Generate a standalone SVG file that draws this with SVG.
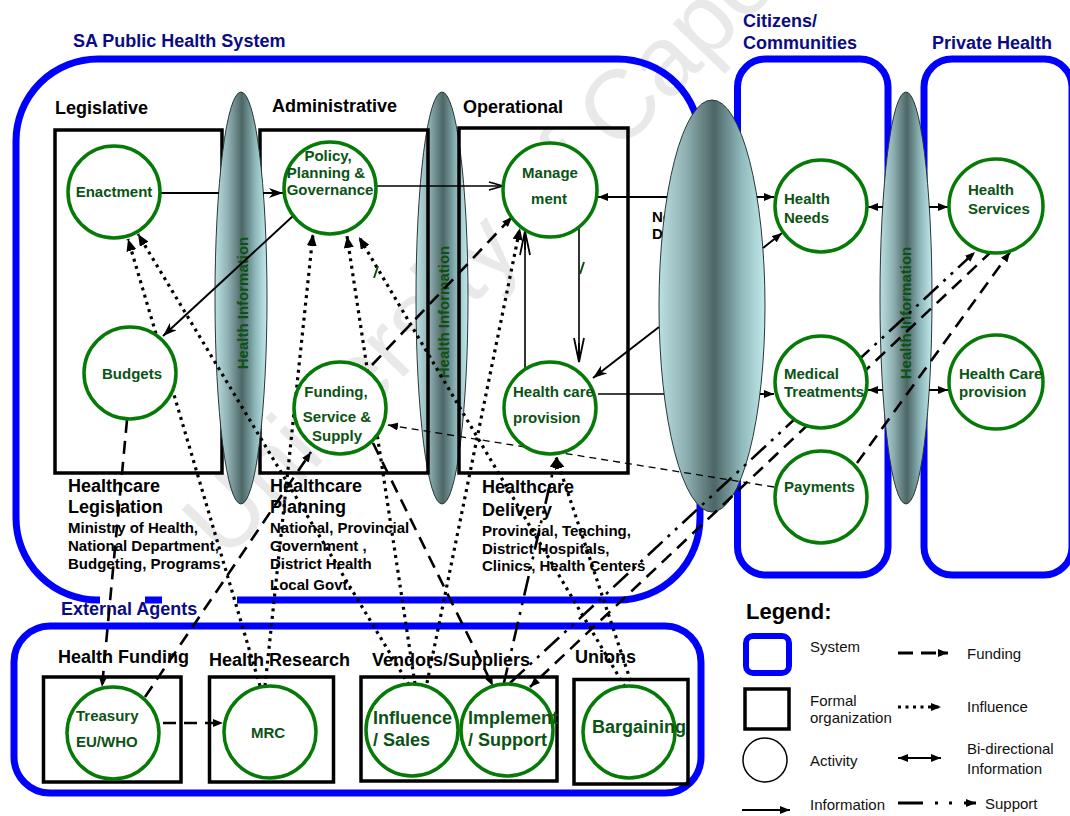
<svg xmlns="http://www.w3.org/2000/svg" width="1070" height="816" viewBox="0 0 1070 816">
  <defs>
    <linearGradient id="hiGrad" x1="0" y1="0" x2="1" y2="0">
      <stop offset="0" stop-color="#bcdfe2"/>
      <stop offset="0.25" stop-color="#8fb1b4"/>
      <stop offset="0.52" stop-color="#4d6666"/>
      <stop offset="0.78" stop-color="#8fb9bc"/>
      <stop offset="1" stop-color="#c2e9ec"/>
    </linearGradient>
    <marker id="mFill" viewBox="0 0 10 8" refX="10" refY="4" markerWidth="10" markerHeight="8" markerUnits="userSpaceOnUse" orient="auto-start-reverse">
      <path d="M0,0L10,4L0,8z" fill="#000"/>
    </marker>
    <marker id="mDot" viewBox="0 0 12 10" refX="12" refY="5" markerWidth="12" markerHeight="10" markerUnits="userSpaceOnUse" orient="auto-start-reverse">
      <path d="M0,0L12,5L0,10z" fill="#000"/>
    </marker>
    <marker id="mStealth" viewBox="0 0 14 10" refX="14" refY="5" markerWidth="14" markerHeight="10" markerUnits="userSpaceOnUse" orient="auto-start-reverse">
      <path d="M0,0L14,5L0,10L4,5z" fill="#000"/>
    </marker>
    <marker id="mVee" viewBox="0 0 16 10" refX="15" refY="5" markerWidth="16" markerHeight="10" markerUnits="userSpaceOnUse" orient="auto-start-reverse">
      <path d="M1,1L15,5L1,9" fill="none" stroke="#000" stroke-width="1.6"/>
    </marker>
    <marker id="mVeeLong" viewBox="0 0 26 12" refX="25" refY="6" markerWidth="26" markerHeight="12" markerUnits="userSpaceOnUse" orient="auto-start-reverse">
      <path d="M1,1L25,6L1,11M25,6L6,6" fill="none" stroke="#000" stroke-width="1.8"/>
    </marker>
  </defs>
  <style>
    text{font-family:"Liberation Sans",Arial,Helvetica,sans-serif}
    .wm{font-size:98px;fill:#e9e9e9}
    .sys{fill:none;stroke:#0000ff;stroke-width:7}
    .sysTitle{font-size:18px;font-weight:bold;fill:#0b0b84}
    .org{fill:none;stroke:#000;stroke-width:3.5}
    .orgTitle{font-size:18px;font-weight:bold;fill:#000}
    .orgSub{font-size:15px;font-weight:bold;fill:#000}
    .hidden{font-size:15px;font-weight:bold;fill:#000}
    .act circle{fill:#fff;stroke:#067a06;stroke-width:3.5}
    .act text{font-size:15px;font-weight:bold;fill:#0b5314}
    .act text.big{font-size:18px}
    .hi ellipse{fill:url(#hiGrad);stroke:#283636;stroke-width:1}
    .hi text{font-size:15px;font-weight:bold;fill:#0b5314}
    .info{fill:none;stroke:#000;stroke-width:2}
    .infoThin{fill:none;stroke:#000;stroke-width:1.6}
    .fund{fill:none;stroke:#000;stroke-width:2.6;stroke-dasharray:13 8}
    .fundThin{fill:none;stroke:#000;stroke-width:1.3;stroke-dasharray:7 5}
    .infl{fill:none;stroke:#000;stroke-width:3.2;stroke-dasharray:3 4.5}
    .supp{fill:none;stroke:#000;stroke-width:2.6;stroke-dasharray:20 7 3 7 3 7}
    .leg text{font-size:15px;fill:#111}
    .leg text.head{font-size:22px;font-weight:bold;fill:#000}
  </style>

  <!-- faint background watermark -->
  <text class="wm" x="225" y="562" transform="rotate(-46 225 562)">University of Cape</text>

  <!-- system frames -->
  <g id="sys-public">
    <rect class="sys" x="16" y="59" width="684" height="541" rx="82"/>
    <rect x="100" y="595" width="45" height="10" fill="#fff"/>
    <rect x="162" y="595" width="75" height="10" fill="#fff"/>
    <text class="sysTitle" x="73" y="47">SA Public Health System</text>
  </g>
  <g id="sys-citizens">
    <rect class="sys" x="737.5" y="59" width="150.5" height="516" rx="28"/>
    <text class="sysTitle" x="743" y="27">Citizens/</text>
    <text class="sysTitle" x="743" y="49">Communities</text>
  </g>
  <g id="sys-private">
    <rect class="sys" x="924" y="59" width="148" height="516" rx="28"/>
    <text class="sysTitle" x="932" y="49">Private Health</text>
  </g>
  <g id="sys-external">
    <rect class="sys" x="14" y="626" width="687" height="167" rx="36"/>
    <text class="sysTitle" x="61" y="615">External Agents</text>
  </g>

  <!-- health information channel between administrative and operational -->
  <g id="hi-2" class="hi">
    <ellipse cx="442" cy="298" rx="26" ry="206"/>
    <text x="449" y="312" transform="rotate(-90 449 312)" text-anchor="middle">Health Information</text>
  </g>

  <!-- formal organizations -->
  <g id="org-legislative">
    <rect class="org" x="55" y="130" width="167" height="343"/>
    <text class="orgTitle" x="55" y="114">Legislative</text>
    <text class="orgTitle" x="68" y="492">Healthcare</text>
    <text class="orgTitle" x="68" y="513">Legislation</text>
    <text class="orgSub" x="68" y="533">Ministry of Health,</text>
    <text class="orgSub" x="68" y="551">National Department,</text>
    <text class="orgSub" x="68" y="569">Budgeting, Programs</text>
  </g>
  <g id="org-administrative">
    <rect class="org" x="260" y="130" width="168" height="343"/>
    <text class="orgTitle" x="272" y="112">Administrative</text>
    <text class="orgTitle" x="270" y="492">Healthcare</text>
    <text class="orgTitle" x="270" y="513">Planning</text>
    <text class="orgSub" x="270" y="533">National, Provincial</text>
    <text class="orgSub" x="270" y="551">Government ,</text>
    <text class="orgSub" x="270" y="569">District Health</text>
    <text class="orgSub" x="270" y="590">Local Govt.</text>
  </g>
  <g id="org-operational">
    <rect class="org" x="459" y="128" width="169" height="345"/>
    <text class="orgTitle" x="463" y="113">Operational</text>
    <text class="orgTitle" x="482" y="493">Healthcare</text>
    <text class="orgTitle" x="482" y="516">Delivery</text>
    <text class="orgSub" x="482" y="536">Provincial, Teaching,</text>
    <text class="orgSub" x="482" y="554">District Hospitals,</text>
    <text class="orgSub" x="482" y="571">Clinics,  Health Centers</text>
  </g>
  <g id="org-funding">
    <rect class="org" x="43.5" y="677" width="137.5" height="105"/>
    <text class="orgTitle" x="58" y="663">Health Funding</text>
  </g>
  <g id="org-research">
    <rect class="org" x="209.5" y="677" width="124" height="105"/>
    <text class="orgTitle" x="209" y="666">Health Research</text>
  </g>
  <g id="org-vendors">
    <rect class="org" x="361" y="677" width="196" height="104"/>
    <text class="orgTitle" x="372" y="666">Vendors/Suppliers</text>
  </g>
  <g id="org-unions">
    <rect class="org" x="574" y="679.5" width="114" height="104.5"/>
    <text class="orgTitle" x="575" y="663">Unions</text>
  </g>

  <!-- health information channel between legislative and administrative -->
  <g id="hi-1" class="hi">
    <ellipse cx="241" cy="298" rx="26" ry="206"/>
    <text x="248" y="303" transform="rotate(-90 248 303)" text-anchor="middle">Health Information</text>
  </g>

  <!-- central channel between public system and citizens; its label sits mostly behind it -->
  <g id="hi-3">
    <text class="hidden" x="652" y="222">Ne</text>
    <text class="hidden" x="652" y="239">D</text>
    <ellipse cx="712" cy="306" rx="53" ry="206" fill="url(#hiGrad)" stroke="#283636" stroke-width="1"/>
  </g>

  <!-- health information channel between citizens and private health -->
  <g id="hi-4" class="hi">
    <ellipse cx="906" cy="298" rx="26" ry="206"/>
    <text x="911" y="313" transform="rotate(-90 911 313)" text-anchor="middle">Health Information</text>
  </g>

  <!-- connectors -->
  <g id="connectors">
    <!-- information -->
    <path class="info" d="M160,193L219,193"/>
    <path class="info" d="M263,193L283,193" marker-end="url(#mStealth)"/>
    <path class="infoThin" d="M377,186L503,186" marker-end="url(#mVee)"/>
    <path class="info" d="M293,216L163,336" marker-end="url(#mStealth)"/>
    <path class="infoThin" d="M579,225L579,362" marker-end="url(#mVeeLong)"/>
    <path class="infoThin" d="M525,369L525,231" marker-end="url(#mVeeLong)"/>
    <!-- bi-directional information, passing behind the channels -->
    <path class="info" d="M598,197L667,197" marker-start="url(#mFill)"/>
    <path class="info" d="M757,197L774,197" marker-end="url(#mFill)"/>
    <path class="info" d="M593,378L659,327" marker-start="url(#mStealth)"/>
    <path class="info" d="M763,248L782,233" marker-end="url(#mFill)"/>
    <path class="infoThin" d="M598,394L664,394"/>
    <path class="info" d="M760,394L774,394" marker-end="url(#mFill)"/>
    <path class="info" d="M868,207L883,207" marker-start="url(#mFill)"/>
    <path class="info" d="M929,207L948,207" marker-end="url(#mFill)"/>
    <path class="info" d="M868,390L883,390" marker-start="url(#mFill)"/>
    <path class="info" d="M929,390L948,390" marker-end="url(#mFill)"/>

    <!-- influence -->
    <path class="infl" d="M260,686L128,239" marker-end="url(#mDot)"/>
    <path class="infl" d="M409,685L138,234" marker-end="url(#mDot)"/>
    <path class="infl" d="M265,686L313,234" marker-end="url(#mDot)"/>
    <path class="infl" d="M415,684L347,236" marker-end="url(#mDot)"/>
    <path class="infl" d="M625,687L359,237" marker-end="url(#mDot)"/>
    <path class="infl" d="M427,683L520,228" marker-end="url(#mDot)"/>
    <path class="infl" d="M633,688L556,457" marker-end="url(#mDot)"/>

    <!-- funding -->
    <path class="fund" d="M127,420L102,687" marker-end="url(#mFill)"/>
    <path class="fund" d="M145,697L311,452" marker-end="url(#mFill)"/>
    <path class="fund" d="M163,723L223,723" marker-end="url(#mFill)"/>
    <path class="fund" d="M373,443L493,686" marker-end="url(#mFill)"/>
    <path class="fund" d="M372,365L512,217" marker-end="url(#mFill)"/>
    <path class="fund" d="M992,251L530,687" marker-end="url(#mFill)"/>
    <path class="fund" d="M857,463L1010,252" marker-end="url(#mFill)"/>
    <path class="fundThin" d="M774,487L388,425" marker-end="url(#mFill)"/>

    <!-- support -->
    <path class="supp" d="M510,683L975,252" marker-end="url(#mFill)"/>
    <path class="supp" d="M503,687L556,458" marker-end="url(#mFill)"/>

    <!-- small label fragments -->
    <path d="M580,274L584,262M374,278L378,266" stroke="#0b5314" stroke-width="2" fill="none"/>
  </g>

  <!-- activities -->
  <g id="act-enactment" class="act">
    <circle cx="114" cy="192" r="46"/>
    <text x="114" y="197" text-anchor="middle">Enactment</text>
  </g>
  <g id="act-policy" class="act">
    <circle cx="330" cy="188" r="46"/>
    <text x="328" y="161" text-anchor="middle">Policy,</text>
    <text x="326" y="178" text-anchor="middle">Planning &amp;</text>
    <text x="330" y="195" text-anchor="middle">Governance</text>
  </g>
  <g id="act-management" class="act">
    <circle cx="550" cy="190" r="47"/>
    <text x="550" y="178" text-anchor="middle">Manage</text>
    <text x="549" y="204" text-anchor="middle">ment</text>
  </g>
  <g id="act-budgets" class="act">
    <circle cx="130" cy="373" r="46"/>
    <text x="132" y="379" text-anchor="middle">Budgets</text>
  </g>
  <g id="act-funding" class="act">
    <circle cx="340" cy="408" r="46"/>
    <text x="336" y="397" text-anchor="middle">Funding,</text>
    <text x="337" y="422" text-anchor="middle">Service &amp;</text>
    <text x="337" y="441" text-anchor="middle">Supply</text>
  </g>
  <g id="act-healthcare" class="act">
    <circle cx="550" cy="408" r="46"/>
    <text x="513" y="397">Health care</text>
    <text x="513" y="423">provision</text>
  </g>
  <g id="act-needs" class="act">
    <circle cx="821" cy="206" r="46"/>
    <text x="784" y="204">Health</text>
    <text x="784" y="223">Needs</text>
  </g>
  <g id="act-services" class="act">
    <circle cx="996" cy="206" r="47"/>
    <text x="968" y="195">Health</text>
    <text x="968" y="214">Services</text>
  </g>
  <g id="act-medical" class="act">
    <circle cx="821" cy="382" r="46"/>
    <text x="784" y="379">Medical</text>
    <text x="784" y="397">Treatments</text>
  </g>
  <g id="act-privatecare" class="act">
    <circle cx="996" cy="382" r="47"/>
    <text x="959" y="379">Health Care</text>
    <text x="959" y="397">provision</text>
  </g>
  <g id="act-payments" class="act">
    <circle cx="821" cy="497" r="46"/>
    <text x="784" y="492">Payments</text>
  </g>
  <g id="act-treasury" class="act">
    <circle cx="113" cy="733" r="46"/>
    <text x="76" y="721">Treasury</text>
    <text x="76" y="747">EU/WHO</text>
  </g>
  <g id="act-mrc" class="act">
    <circle cx="270" cy="732" r="46"/>
    <text x="268" y="738" text-anchor="middle">MRC</text>
  </g>
  <g id="act-influence" class="act">
    <circle cx="412" cy="730" r="46"/>
    <text class="big" x="373" y="724">Influence</text>
    <text class="big" x="373" y="746">/ Sales</text>
  </g>
  <g id="act-implement" class="act">
    <circle cx="507" cy="730" r="46"/>
    <text class="big" x="468" y="724">Implement</text>
    <text class="big" x="468" y="746">/ Support</text>
  </g>
  <g id="act-bargaining" class="act">
    <circle cx="629" cy="732" r="46"/>
    <text class="big" x="592" y="733">Bargaining</text>
  </g>

  <!-- legend -->
  <g id="legend" class="leg">
    <text class="head" x="746" y="619">Legend:</text>
    <rect x="746" y="636" width="43" height="37" rx="7" fill="none" stroke="#0000ff" stroke-width="6"/>
    <text x="810" y="652">System</text>
    <path d="M898,653L948,653" fill="none" stroke="#000" stroke-width="3" stroke-dasharray="15 8" marker-end="url(#mFill)"/>
    <text x="967" y="659">Funding</text>
    <rect x="745" y="689" width="44" height="40" fill="none" stroke="#000" stroke-width="3.5"/>
    <text x="810" y="706">Formal</text>
    <text x="810" y="723">organization</text>
    <path class="infl" d="M898,707L941,707" marker-end="url(#mFill)"/>
    <text x="967" y="712">Influence</text>
    <circle cx="765" cy="760" r="22" fill="none" stroke="#000" stroke-width="1.5"/>
    <text x="810" y="766">Activity</text>
    <path class="info" d="M898,758L941,758" marker-start="url(#mFill)" marker-end="url(#mFill)"/>
    <text x="967" y="754">Bi-directional</text>
    <text x="967" y="774">Information</text>
    <path class="info" d="M742,810L790,810" marker-end="url(#mFill)"/>
    <text x="810" y="810">Information</text>
    <path d="M898,803L976,803" fill="none" stroke="#000" stroke-width="3" stroke-dasharray="25 12 3 11 3 12" marker-end="url(#mFill)"/>
    <text x="985" y="809">Support</text>
  </g>
</svg>
